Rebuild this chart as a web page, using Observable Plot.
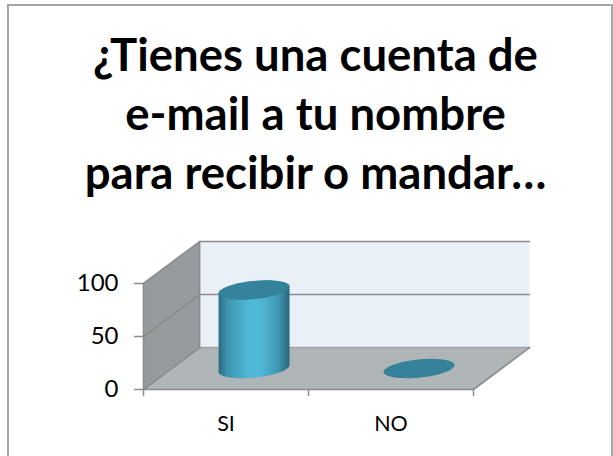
<!DOCTYPE html>
<html><head><meta charset="utf-8">
<script src="https://cdn.jsdelivr.net/npm/d3@7"></script>
<script src="https://cdn.jsdelivr.net/npm/@observablehq/plot@0.6"></script>
<style>
html,body{margin:0;padding:0;background:#fff;}
#wrap{position:relative;width:613px;height:456px;overflow:hidden;}
#frame{position:absolute;left:7px;top:4px;width:606px;height:470px;border:2px solid #a6a6a6;box-sizing:border-box;}
#title{position:absolute;left:17px;width:597px;top:24px;text-align:center;font:700 45.5px/59px Lato,sans-serif;color:#000;white-space:nowrap;}
svg{position:absolute;left:0;top:0;}
</style></head><body>
<div id="wrap"><div id="frame"></div><div id="title"></div></div>
<script>
const titleLines = ["¿Tienes una cuenta de", "e-mail a tu nombre", "para recibir o mandar…"];
const categories = ["SI", "NO"];
const values = [74, 0];
const yTicks = [0, 50, 100];
const depthX = 0.34;   // category units
const depthY = 39.6;   // value units

document.getElementById("title").innerHTML = titleLines.map(t => `<div>${t}</div>`).join("");

const poly = (pts, fill) => Plot.line(pts, {x: d => d[0], y: d => d[1], fill, stroke: "none", curve: "linear"});
const seg = (pts, stroke = "#8c8c8c", w = 1.6) => Plot.line(pts, {x: d => d[0], y: d => d[1], stroke, strokeWidth: w, curve: "linear"});

const n = categories.length, yMax = yTicks[yTicks.length - 1];
const backWall = [[depthX, depthY], [n + depthX, depthY], [n + depthX, yMax + depthY], [depthX, yMax + depthY]];
const sideWall = [[0, 0], [depthX, depthY], [depthX, yMax + depthY], [0, yMax]];
const floor = [[0, 0], [n, 0], [n + depthX, depthY], [depthX, depthY]];

// Cylinder outline, from a tilted ellipse on the floor at mid depth
const A = 0.215, B = 8.6, S = 3.2;
const angles = d3.range(0, 361, 6).map(d => d * Math.PI / 180);
const ellipse = (cx, cy) => angles.map(t => [cx + A * Math.cos(t), cy + B * Math.sin(t) + S * Math.cos(t)]);
const body = (cx, cy, h) => {
  const half = angles.filter(t => t <= Math.PI);
  const low = half.map(t => [cx + A * Math.cos(t), cy - B * Math.sin(t) + S * Math.cos(t)]);
  const up = half.map(t => [cx - A * Math.cos(t), cy + h + B * Math.sin(t) - S * Math.cos(t)]);
  return [...low, ...up];
};

const bars = categories.flatMap((c, i) => {
  const cx = i + 0.5 + depthX / 2, cy = depthY / 2, h = values[i];
  const marks = [];
  if (h > 0) marks.push(poly(body(cx, cy, h), "url(#cyl)"));
  marks.push(poly(ellipse(cx, cy + h), "#35829b"));
  return marks;
});

const defs = () => {
  const s = d3.create("svg:defs");
  const g = s.append("linearGradient").attr("id", "cyl").attr("x1", 0).attr("x2", 1).attr("y1", 0).attr("y2", 0);
  [[0, "#2a6a80"], [0.12, "#3d93ad"], [0.42, "#4fb8d6"], [0.6, "#4fb8d6"], [0.85, "#3f96b0"], [1, "#28667b"]]
    .forEach(([o, c]) => g.append("stop").attr("offset", o).attr("stop-color", c));
  return s.node();
};

const chart = Plot.plot({
  width: 613, height: 456,
  marginLeft: 143, marginRight: 140, marginTop: 283, marginBottom: 67,
  x: {domain: [0, n], axis: null},
  y: {domain: [0, yMax], axis: null},
  style: {background: "transparent", fontFamily: "Lato, sans-serif"},
  marks: [
    defs,
    poly(backWall, "#e9f0f7"),
    poly(sideWall, "#969b9d"),
    poly(floor, "#b0b5b8"),
    // gridlines on back and side walls
    ...yTicks.slice(1).map(v => seg([[0, v], [depthX, v + depthY], [n + depthX, v + depthY]])),
    seg([[depthX, depthY], [n + depthX, depthY]], "#a0a4a6"),
    seg([[0, 0], [depthX, depthY], [depthX, yMax + depthY]]),
    seg([[n, 0], [n + depthX, depthY]]),
    seg([[0, yMax], [0, 0], [n, 0]]),
    ...bars,
    Plot.axisY(yTicks, {anchor: "left", tickSize: 9, tickPadding: 16, fontSize: 24, label: null, stroke: "#8c8c8c", strokeWidth: 1.5, color: "#000"}),
    Plot.axisX(d3.range(n + 1), {anchor: "bottom", tickSize: 7, tickFormat: () => "", stroke: "#8c8c8c", strokeWidth: 1.5, label: null}),
    Plot.text(categories, {x: (d, i) => i + 0.5, y: 0, text: d => d, dy: 35, fontSize: 21.5, fill: "#000"})
  ]
});
document.getElementById("wrap").appendChild(chart);
</script>
</body></html>
